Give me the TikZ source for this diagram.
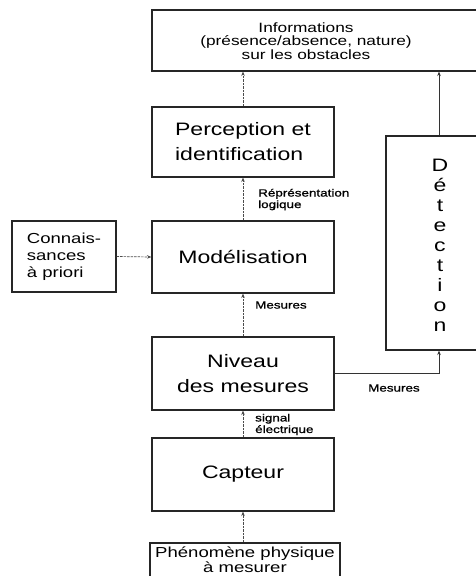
\documentclass[tikz,border=0pt]{standalone}
\usepackage{fontspec}
\setmainfont{Liberation Sans}[FakeStretch=1.28]
\newfontfamily\lblfont{Liberation Sans}[FakeStretch=1.28,FakeBold=1]
\usetikzlibrary{arrows.meta}
\begin{document}
\begin{tikzpicture}[x=1pt,y=-1pt,
  box/.style={draw=black!85, line width=1.1pt, rectangle, inner sep=0pt},
  big/.style={font=\fontsize{18}{25}\selectfont, align=left},
  bigc/.style={font=\fontsize{18}{25}\selectfont, align=center},
  small/.style={font=\lblfont\fontsize{10.5}{11.5}\selectfont, align=left, inner sep=0pt, anchor=west},
  conn/.style={draw=black!70, line width=0.7pt, dash pattern=on 2.5pt off 1pt, -{Stealth[length=4.5pt,width=3.5pt]}},
  connsolid/.style={draw=black!80, line width=0.8pt, -{Stealth[length=4.5pt,width=3.5pt]}},
]
\useasboundingbox (0,0) rectangle (476,576);
\clip (0,0) rectangle (476,576);

% boxes
\node[box, minimum width=348pt, minimum height=61pt] (info) at (326,40.5) {};
\node[font=\fontsize{13.5}{13.5}\selectfont, align=center, inner sep=0pt] (infot) at (306,41) {Informations\\(présence/absence, nature)\\sur les obstacles};

\node[box, minimum width=182pt, minimum height=70pt, big] (perc) at (243,142) {Perception et\\identification};
\node[box, minimum width=182pt, minimum height=72pt, bigc] (model) at (243,257) {Modélisation};
\node[box, minimum width=182pt, minimum height=73pt, bigc] (niveau) at (243,373.5) {Niveau\\des mesures};
\node[box, minimum width=182pt, minimum height=73pt, bigc] (capteur) at (243,474.5) {Capteur};

\node[box, minimum width=104pt, minimum height=71pt, font=\fontsize{14.5}{17}\selectfont, align=left] (connais) at (64,256.5) {Connais-\\sances\\à priori};

\node[box, minimum width=114pt, minimum height=214pt] (detect) at (443,243) {};
\node[font=\fontsize{18}{20}\selectfont, align=center, inner sep=0pt] (dett) at (440,245) {D\\é\\t\\e\\c\\t\\i\\o\\n};

\node[box, minimum width=190pt, minimum height=57pt] (phen) at (245,571.5) {};
\node[font=\fontsize{14.5}{11}\selectfont, align=center, inner sep=0pt] (phent) at (245,560) {Phénomène physique\\à mesurer};

% connectors
\coordinate (dx) at (439,0);
\draw[conn] (capteur.south |- phen.north) -- (capteur.south);
\draw[conn] (capteur) -- (niveau);
\draw[conn] (niveau) -- (model);
\draw[conn] (model) -- (perc);
\draw[conn] (perc.north) -- (perc.north |- info.south);
\draw[conn] (connais.east) -- (model.west);
\draw[connsolid] (niveau.east) -| (dx |- detect.south);
\draw[connsolid] (dx |- detect.north) -- (dx |- info.south);

% labels
\node[small] (lrep) at (258,199.5) {Réprésentation\\logique};
\node[small] (lmes1) at (255,305) {Mesures};
\node[small] (lsig) at (255,424.5) {signal\\électrique};
\node[small] (lmes2) at (368,388) {Mesures};
\end{tikzpicture}
\end{document}
